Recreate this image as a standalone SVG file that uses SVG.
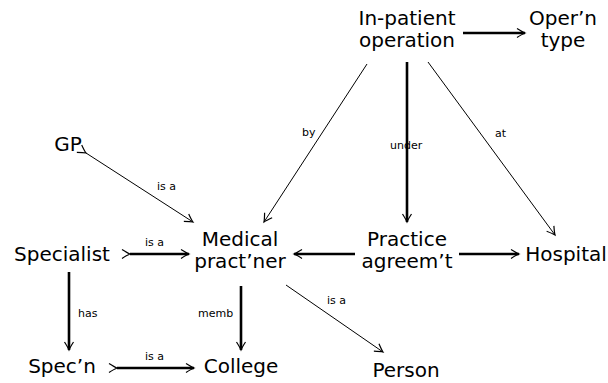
<svg xmlns="http://www.w3.org/2000/svg" width="608" height="383" viewBox="0 0 608 383">
<style>
.n{font-family:"DejaVu Sans","Liberation Sans",sans-serif;font-size:20px;fill:#000;text-anchor:middle}
.l{font-family:"DejaVu Sans","Liberation Sans",sans-serif;font-size:11px;fill:#000}
.thin{stroke:#000;stroke-width:1;fill:none}
.thick{stroke:#000;stroke-width:2.6;fill:none}
.head{marker-end:url(#ah)}
.tail{marker-start:url(#ah)}
</style>
<defs>
<marker id="ah" markerUnits="userSpaceOnUse" orient="auto" overflow="visible" markerWidth="10" markerHeight="10" refX="0" refY="0">
<path d="M-8,-4.5 Q-2.5,-1 0,0 Q-2.5,1 -8,4.5" fill="none" stroke="#000" stroke-width="1.2"/>
</marker>
</defs>
<g id="connectors">
<line class="thick head" x1="463" y1="33" x2="525" y2="33"/>
<line class="thin head" x1="367" y1="64" x2="264" y2="222"/>
<line class="thick head" x1="407" y1="62" x2="407" y2="222"/>
<line class="thin head" x1="428" y1="62" x2="555" y2="235"/>
<line class="thin head tail" x1="86" y1="153" x2="193" y2="222"/>
<line class="thick head tail" x1="130" y1="254" x2="189" y2="254"/>
<line class="thick head" x1="355" y1="254" x2="294" y2="254"/>
<line class="thick head" x1="459" y1="254" x2="519" y2="254"/>
<line class="thick head" x1="69" y1="272" x2="69" y2="350"/>
<line class="thick head" x1="241" y1="286" x2="241" y2="350"/>
<line class="thin head" x1="286" y1="285" x2="383" y2="352"/>
<line class="thick head tail" x1="117" y1="368" x2="194" y2="368"/>
<text class="l" x="302" y="136">by</text>
<text class="l" x="390" y="149">under</text>
<text class="l" x="495" y="137">at</text>
<text class="l" x="157" y="190">is a</text>
<text class="l" x="145" y="246">is a</text>
<text class="l" x="78" y="317">has</text>
<text class="l" x="198" y="317">memb</text>
<text class="l" x="327" y="304">is a</text>
<text class="l" x="145" y="360">is a</text>
</g>
<g id="inpatient"><text class="n" x="407" y="25">In-patient</text><text class="n" x="407" y="47">operation</text></g>
<g id="opertype"><text class="n" x="563" y="25">Oper’n</text><text class="n" x="563" y="47">type</text></g>
<g id="gp"><text class="n" x="68" y="151">GP</text></g>
<g id="specialist"><text class="n" x="62" y="261">Specialist</text></g>
<g id="medical"><text class="n" x="240" y="246">Medical</text><text class="n" x="240" y="268">pract’ner</text></g>
<g id="practice"><text class="n" x="407" y="246">Practice</text><text class="n" x="407" y="268">agreem’t</text></g>
<g id="hospital"><text class="n" x="566" y="261">Hospital</text></g>
<g id="specn"><text class="n" x="62" y="373">Spec’n</text></g>
<g id="college"><text class="n" x="241" y="373">College</text></g>
<g id="person"><text class="n" x="406" y="377">Person</text></g>
</svg>
